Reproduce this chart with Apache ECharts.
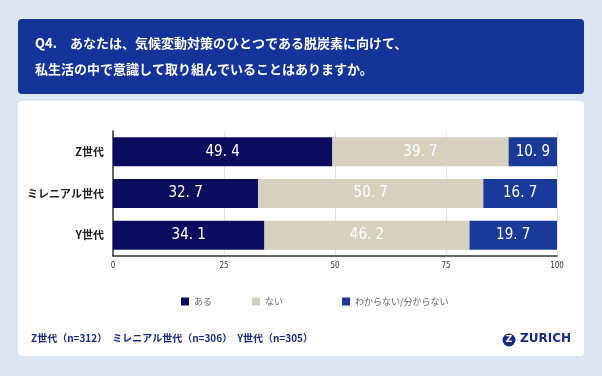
<!DOCTYPE html>
<html>
<head>
<meta charset="utf-8">
<script src="https://cdn.jsdelivr.net/npm/echarts@6/dist/echarts.min.js"></script>
<style>
  html, body { margin: 0; padding: 0; background: #dce6f2; }
  #chart { width: 602px; height: 376px; }
</style>
</head>
<body>
<div id="chart"></div>
<script>
// categories, top to bottom
const categories = ['Z世代', 'ミレニアル世代', 'Y世代']
const seriesNames = ['ある', 'ない', 'わからない/分からない']
const aru = [49.4, 32.7, 34.1]
const nai = [39.7, 50.7, 46.2]
const wakaranai = [10.9, 16.7, 19.7]
const xTicks = [0, 25, 50, 75, 100]

const colors = ['#0b0c5e', '#d6d0be', '#1a3a9a']
const font = '"Noto Sans CJK JP", sans-serif'
const numFont = '"DejaVu Sans Condensed", "Noto Sans CJK JP", sans-serif'

const chart = echarts.init(document.getElementById('chart'))

const mkSeries = (name, data, i) => ({
  name,
  type: 'bar',
  stack: 'total',
  data,
  barWidth: 29,
  itemStyle: { color: colors[i] },
  label: {
    show: true,
    position: 'inside',
    color: '#fff',
    fontFamily: numFont,
    fontSize: 15,
    formatter: p => p.value.toFixed(1).replace('.', '. ')
  }
})

const mkLegend = (name, left) => ({
  data: [name],
  left,
  top: 292,
  itemWidth: 8,
  itemHeight: 8,
  itemGap: 4,
  icon: 'rect',
  textStyle: { fontSize: 9, color: '#666', fontFamily: font }
})

chart.setOption({
  backgroundColor: '#dce6f2',
  animation: false,
  graphic: [
    { type: 'rect', shape: { x: 18, y: 19, width: 566, height: 75, r: 4 }, style: { fill: '#15349a' } },
    { type: 'rect', shape: { x: 18, y: 101, width: 566, height: 255, r: 4 }, style: { fill: '#ffffff' } },
    { type: 'text', left: 35, top: 37, style: { text: 'Q4.　あなたは、気候変動対策のひとつである脱炭素に向けて、', fill: '#fff', font: 'bold 13px "Noto Sans CJK JP"' } },
    { type: 'text', left: 35, top: 63, style: { text: '私生活の中で意識して取り組んでいることはありますか。', fill: '#fff', font: 'bold 13px "Noto Sans CJK JP"' } },
    { type: 'text', left: 31, top: 333, style: { text: 'Z世代（n=312）　ミレニアル世代（n=306）　Y世代（n=305）', fill: '#1a2a80', font: 'bold 10px "Noto Sans CJK JP"' } },
    { type: 'circle', shape: { cx: 509, cy: 340, r: 6.5 }, style: { fill: '#1a2a80' } },
    { type: 'text', x: 509, y: 340, style: { text: 'Z', fill: '#fff', font: 'bold 9px "DejaVu Sans"', align: 'center', verticalAlign: 'middle' } },
    { type: 'text', left: 520, top: 333, style: { text: 'ZURICH', fill: '#1a2a80', font: 'bold 12px "DejaVu Sans"' } }
  ],
  legend: [
    mkLegend(seriesNames[0], 176),
    mkLegend(seriesNames[1], 247),
    mkLegend(seriesNames[2], 337)
  ],
  grid: { left: 113, right: 45, top: 131, bottom: 120, containLabel: false },
  xAxis: {
    type: 'value',
    min: 0,
    max: 100,
    interval: 25,
    axisLine: { show: true, lineStyle: { color: '#333', width: 1.5 } },
    axisTick: { show: false },
    splitLine: { show: true, lineStyle: { color: '#e4e4e4' } },
    axisLabel: {
      fontSize: 8,
      color: '#333',
      fontFamily: numFont,
      margin: 6,
      formatter: v => xTicks.includes(v) ? String(v) : ''
    }
  },
  yAxis: {
    type: 'category',
    data: categories,
    inverse: true,
    axisLine: { show: true, lineStyle: { color: '#333', width: 1.5 } },
    axisTick: { show: false },
    axisLabel: { fontSize: 11, fontWeight: 'bold', color: '#222', fontFamily: font, margin: 9 }
  },
  series: [
    mkSeries(seriesNames[0], aru, 0),
    mkSeries(seriesNames[1], nai, 1),
    mkSeries(seriesNames[2], wakaranai, 2)
  ]
})
</script>
</body>
</html>
